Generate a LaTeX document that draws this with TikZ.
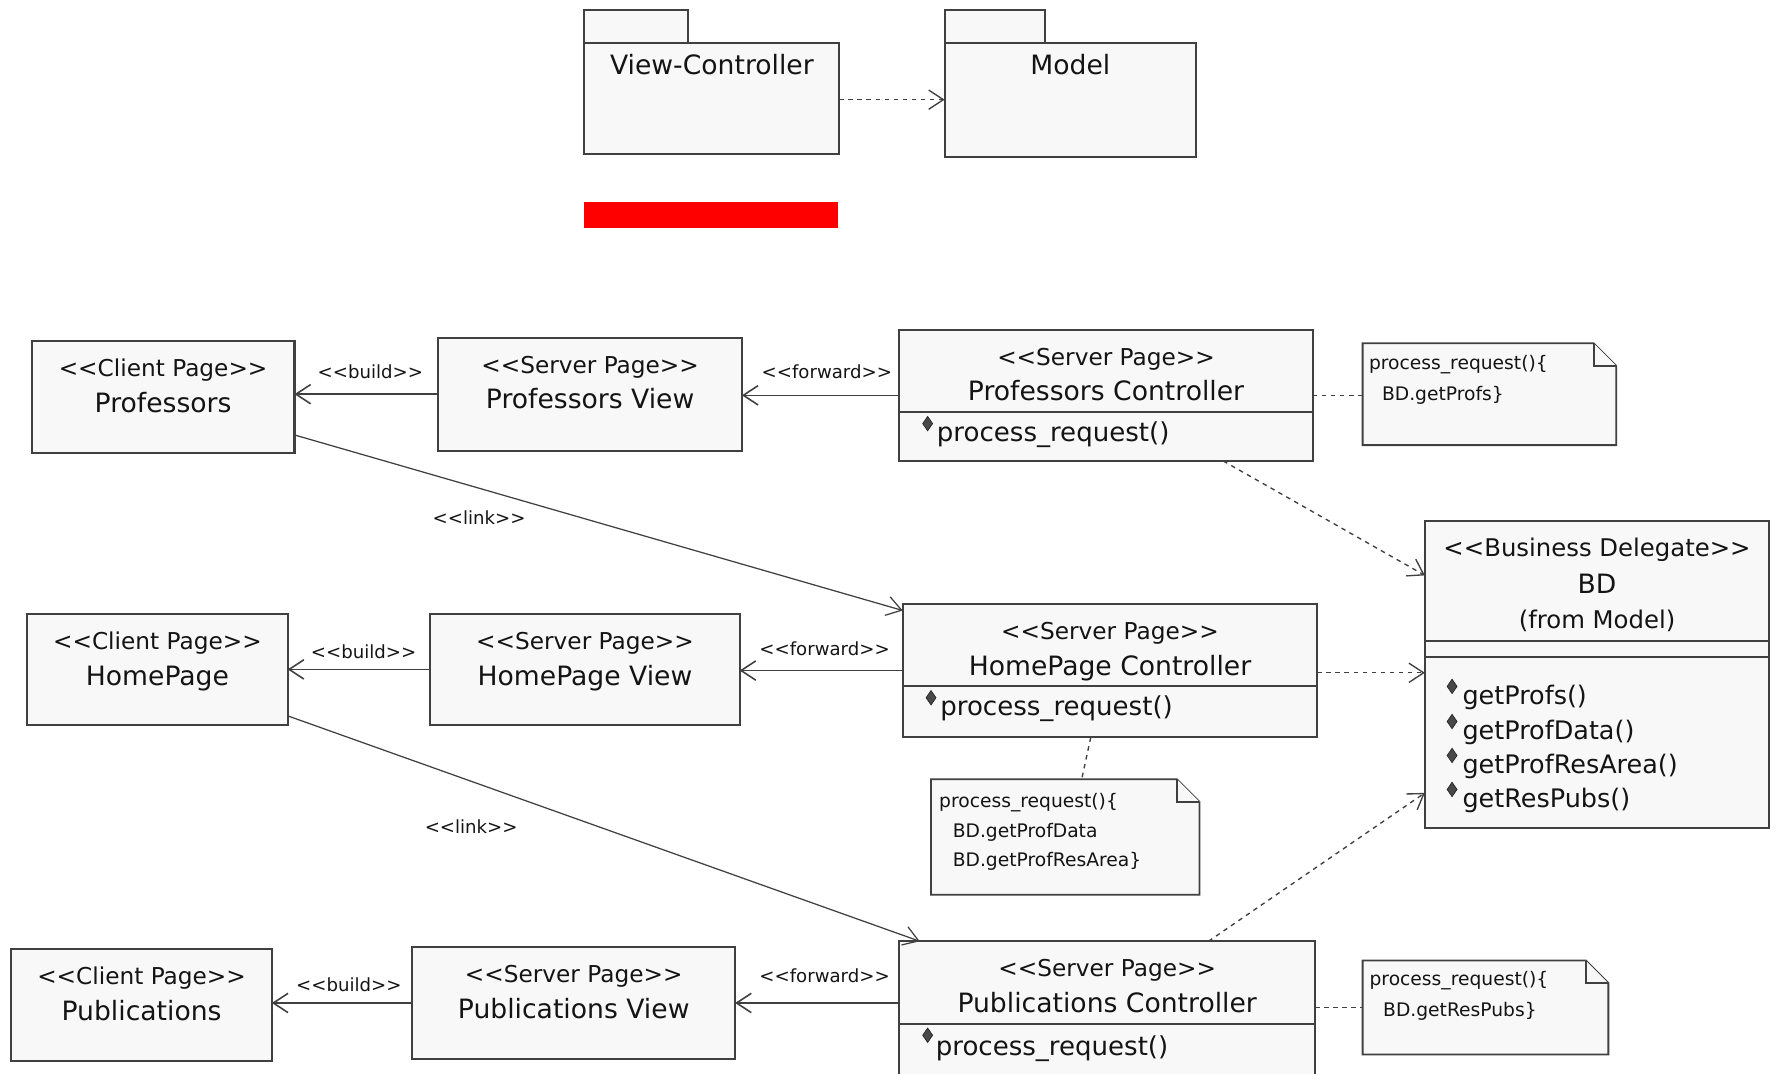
\documentclass[tikz,border=0pt]{standalone}
\usepackage{fontspec}
\setmainfont{DejaVu Sans}[Ligatures=TeXOff]
\usetikzlibrary{arrows.meta,shapes.geometric}

\definecolor{edgec}{RGB}{64,64,64}
\definecolor{boxfill}{RGB}{248,248,248}
\definecolor{inkc}{RGB}{20,20,20}
\definecolor{iconc}{RGB}{72,72,72}
\definecolor{barred}{RGB}{255,0,0}

\newcommand\nameF{\fontsize{23.5}{28}\selectfont}
\newcommand\stereoF{\fontsize{20.5}{24}\selectfont}
\newcommand\bdstereoF{\fontsize{21.5}{25}\selectfont}
\newcommand\labelF{\fontsize{16}{19}\selectfont}
\newcommand\noteF{\fontsize{16.5}{20}\selectfont}
\newcommand\opF{\fontsize{23}{27}\selectfont}
\newcommand\bdopF{\fontsize{22.5}{27}\selectfont}
\newcommand\notefold{20pt}

% note outline with a folded corner, drawn around a named area node
\newcommand\foldnote[1]{%
  \filldraw[noteline] (#1.north west) -- ([xshift=-\notefold]#1.north east)
    -- ([yshift=-\notefold]#1.north east) -- (#1.south east) -- (#1.south west) -- cycle;
  \draw[noteline] ([xshift=-\notefold]#1.north east) |- ([yshift=-\notefold]#1.north east);}

\tikzset{
  box/.style 2 args={draw=edgec, fill=boxfill, line width=1.8pt, anchor=north west,
    inner sep=0, outer sep=0, minimum width=#1pt, minimum height=#2pt},
  area/.style 2 args={anchor=north west, inner sep=0, outer sep=0,
    minimum width=#1pt, minimum height=#2pt},
  boxline/.style={draw=edgec, fill=boxfill, line width=1.8pt},
  noteline/.style={draw=edgec, fill=boxfill, line width=1.6pt},
  txt/.style={inner sep=0, anchor=base, text=inkc},
  ltxt/.style={inner sep=0, anchor=base west, text=inkc},
  opicon/.style={diamond, fill=iconc, draw=black!85, line width=0.6pt, inner sep=0,
    minimum width=9pt, minimum height=13pt, shape border rotate=45},
  openhead/.style={-{Straight Barb[length=13pt,width=17pt]}},
  assoc/.style={draw=edgec, line width=1.4pt, openhead},
  link/.style={draw=edgec, line width=1.1pt, openhead},
  depend/.style={draw=edgec, line width=1.2pt, dash pattern=on 4pt off 4pt, openhead},
  anchorline/.style={draw=edgec, line width=1.2pt, dash pattern=on 4pt off 4pt},
}

\begin{document}
\begin{tikzpicture}[x=1pt,y=-1pt]
\useasboundingbox (0,0) rectangle (1568,948);

% ---------- packages ----------
\node[box={225}{98}] (vc) at (516,38) {};
\filldraw[boxline] (vc.north west) rectangle ++(91,-29);
\node[txt, font=\nameF] (vct) at (628.5,66) {View-Controller};

\node[box={222}{101}] (model) at (834,38) {};
\filldraw[boxline] (model.north west) rectangle ++(89,-29);
\node[txt, font=\nameF] (modelt) at (945,66) {Model};

\draw[depend] (vc.east |- 0,88) -- (model.west |- 0,88);

\node[fill=barred, anchor=north west, inner sep=0, minimum width=225pt, minimum height=23pt] (bar) at (515,178) {};

% ---------- row 1: professors ----------
\node[box={232}{99}] (cp1) at (28,301) {};
\node[txt, font=\stereoF] (cp1s) at (144,332.5) {<<Client Page>>};
\node[txt, font=\nameF] (cp1n) at (144,364) {Professors};

\node[box={268}{100}] (sv1) at (387,298) {};
\node[txt, font=\stereoF] (sv1s) at (521,329.5) {<<Server Page>>};
\node[txt, font=\nameF] (sv1n) at (521,361) {Professors View};

\node[box={365}{116}] (pc) at (794,291) {};
\draw[boxline] (pc.west |- 0,364) -- (pc.east |- 0,364);
\node[txt, font=\stereoF] (pcs) at (976.5,322.5) {<<Server Page>>};
\node[txt, font=\nameF] (pcn) at (976.5,354) {Professors Controller};
\node[opicon] (pci) at (819,374) {};
\node[ltxt, font=\opF] (pcm) at (827,390) {process\_request()};

\node[area={224}{90}] (n1) at (1203,303) {};
\foldnote{n1}
\node[ltxt, font=\noteF] (n1a) at (1208.5,326.5) {process\_request()\{};
\node[ltxt, font=\noteF] (n1b) at (1220,354) {BD.getProfs\}};

\draw[assoc] (sv1.west) -- (sv1.west -| cp1.east);
\node[txt, font=\labelF] (b1) at (327,334) {<<build>>};
\draw[assoc] (pc.west) -- (pc.west -| sv1.east);
\node[txt, font=\labelF] (f1) at (730,334) {<<forward>>};
\draw[anchorline] (pc.east) -- (pc.east -| n1.west);

% ---------- row 2: home page ----------
\node[box={230}{98}] (cp2) at (24,542) {};
\node[txt, font=\stereoF] (cp2s) at (139,573.5) {<<Client Page>>};
\node[txt, font=\nameF] (cp2n) at (139,605) {HomePage};

\node[box={273}{98}] (sv2) at (380,542) {};
\node[txt, font=\stereoF] (sv2s) at (516.5,573.5) {<<Server Page>>};
\node[txt, font=\nameF] (sv2n) at (516.5,605) {HomePage View};

\node[box={366}{118}] (hc) at (797,533) {};
\draw[boxline] (hc.west |- 0,606) -- (hc.east |- 0,606);
\node[txt, font=\stereoF] (hcs) at (980,564.5) {<<Server Page>>};
\node[txt, font=\nameF] (hcn) at (980,596) {HomePage Controller};
\node[opicon] (hci) at (822,616) {};
\node[ltxt, font=\opF] (hcm) at (830,632) {process\_request()};

\node[area={237}{102}] (n2) at (822,688) {};
\foldnote{n2}
\node[ltxt, font=\noteF] (n2a) at (829,713) {process\_request()\{};
\node[ltxt, font=\noteF] (n2b) at (841,739) {BD.getProfData};
\node[ltxt, font=\noteF] (n2c) at (841,765) {BD.getProfResArea\}};

\draw[assoc] (sv2.west) -- (sv2.west -| cp2.east);
\node[txt, font=\labelF] (b2) at (321,581) {<<build>>};
\draw[assoc] (hc.west) -- (hc.west -| sv2.east);
\node[txt, font=\labelF] (f2) at (728,579) {<<forward>>};
\draw[anchorline] (hc.south -| 963,0) -- (n2.north -| 955,0);

% ---------- row 3: publications ----------
\node[box={230}{99}] (cp3) at (10,838) {};
\node[txt, font=\stereoF] (cp3s) at (125,869.5) {<<Client Page>>};
\node[txt, font=\nameF] (cp3n) at (125,901) {Publications};

\node[box={285}{99}] (sv3) at (364,836) {};
\node[txt, font=\stereoF] (sv3s) at (506.5,867.5) {<<Server Page>>};
\node[txt, font=\nameF] (sv3n) at (506.5,899) {Publications View};

\node[box={367}{130}] (pubc) at (794,831) {};
\draw[boxline] (pubc.west |- 0,904) -- (pubc.east |- 0,904);
\node[txt, font=\stereoF] (pubcs) at (977.5,862.5) {<<Server Page>>};
\node[txt, font=\nameF] (pubcn) at (977.5,894) {Publications Controller};
\node[opicon] (pubci) at (819,914) {};
\node[ltxt, font=\opF] (pubcm) at (826,932) {process\_request()};

\node[area={217}{83}] (n3) at (1203,848) {};
\foldnote{n3}
\node[ltxt, font=\noteF] (n3a) at (1209,870) {process\_request()\{};
\node[ltxt, font=\noteF] (n3b) at (1221,897) {BD.getResPubs\}};

\draw[assoc] (sv3.west) -- (sv3.west -| cp3.east);
\node[txt, font=\labelF] (b3) at (308,875) {<<build>>};
\draw[assoc] (sv3.east -| pubc.west) -- (sv3.east);
\node[txt, font=\labelF] (f3) at (728,867) {<<forward>>};
\draw[anchorline] (pubc.east |- n3.west) -- (n3.west);

% ---------- business delegate ----------
\node[box={304}{271}] (bd) at (1258,460) {};
\draw[boxline] (bd.west |- 0,566) -- (bd.east |- 0,566);
\draw[boxline] (bd.west |- 0,580) -- (bd.east |- 0,580);
\node[txt, font=\bdstereoF] (bds) at (1410,491) {<<Business Delegate>>};
\node[txt, font=\nameF] (bdn) at (1410,524) {BD};
\node[txt, font=\bdstereoF] (bdf) at (1410,555) {(from Model)};
\node[opicon] (bdi1) at (1282,606) {};
\node[ltxt, font=\bdopF] (bdm1) at (1291,622) {getProfs()};
\node[opicon] (bdi2) at (1282,637) {};
\node[ltxt, font=\bdopF] (bdm2) at (1291,653) {getProfData()};
\node[opicon] (bdi3) at (1282,667) {};
\node[ltxt, font=\bdopF] (bdm3) at (1291,683) {getProfResArea()};
\node[opicon] (bdi4) at (1282,697) {};
\node[ltxt, font=\bdopF] (bdm4) at (1291,713) {getResPubs()};

% ---------- links and dependencies ----------
\draw[link] (cp1.east |- 0,384) -- ([yshift=-6pt]hc.north west);
\node[txt, font=\labelF] (l1) at (423,463) {<<link>>};
\draw[link] (cp2.east |- 0,632) -- ([xshift=18pt]pubc.north west);
\node[txt, font=\labelF] (l2) at (416,736) {<<link>>};

\draw[depend] (pc.south -| 1080,0) -- (bd.west |- 0,508);
\draw[depend] (hc.east |- 0,594) -- (bd.west |- 0,594);
\draw[depend] (pubc.north -| 1067,0) -- (bd.west |- 0,700);
\end{tikzpicture}
\end{document}
